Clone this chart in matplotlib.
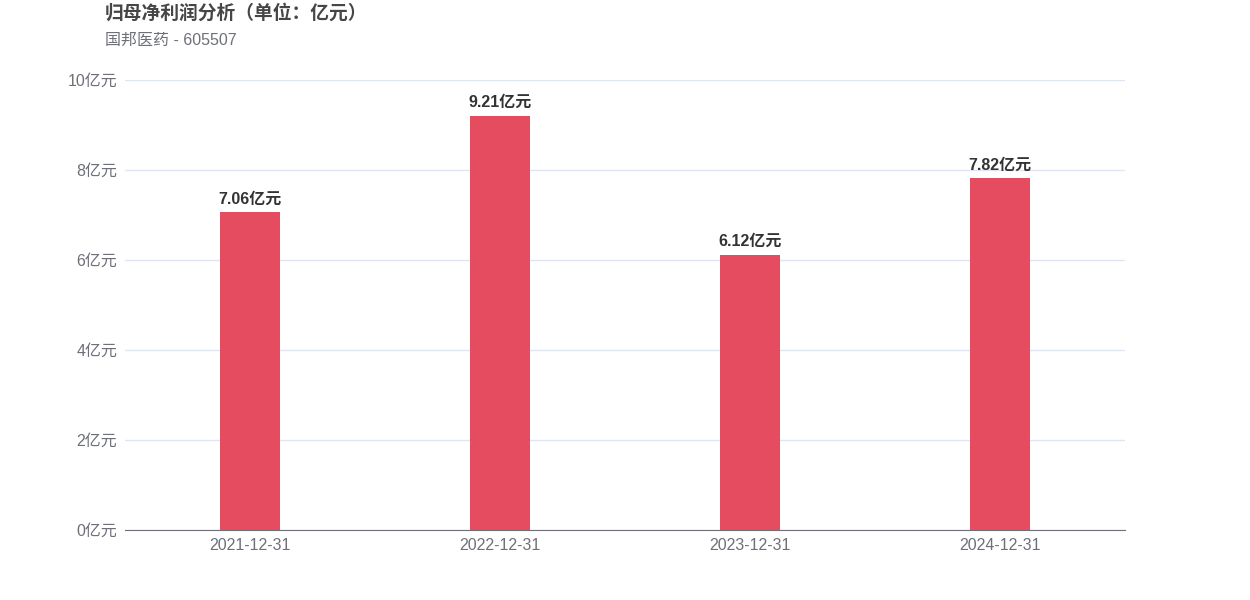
import matplotlib
matplotlib.use("Agg")
import matplotlib.pyplot as plt

plt.rcParams['font.family'] = ['Liberation Sans', 'Noto Sans CJK SC', 'DejaVu Sans']

categories = ['2021-12-31', '2022-12-31', '2023-12-31', '2024-12-31']
values = [7.06, 9.21, 6.12, 7.82]
yticks = [0, 2, 4, 6, 8, 10]
ytick_labels = ['0亿元', '2亿元', '4亿元', '6亿元', '8亿元', '10亿元']
title = '归母净利润分析（单位：亿元）'
subtitle = '国邦医药 - 605507'

fig = plt.figure(figsize=(12.5, 6), dpi=100)
ax = fig.add_axes([125/1250, 1-530/600, 1000/1250, 450/600])

x = list(range(len(categories)))
ax.bar(x, values, width=0.24, color='#E64C5F', zorder=3)
for xi, v in zip(x, values):
    ax.annotate(f'{v:.2f}亿元', (xi, v), xytext=(0, 4), textcoords='offset points',
                ha='center', va='bottom', fontsize=11.5, fontweight='bold', color='#333333')

ax.set_xlim(-0.5, len(categories) - 0.5)
ax.set_ylim(0, 10)
ax.set_yticks(yticks)
ax.set_yticklabels(ytick_labels)
ax.set_xticks(x)
ax.set_xticklabels(categories)
ax.grid(axis='y', color='#E0E6F1', linewidth=1, zorder=0)
for s in ['top', 'right', 'left']:
    ax.spines[s].set_visible(False)
ax.spines['bottom'].set_color('#6E7079')
ax.spines['bottom'].set_zorder(4)
ax.tick_params(axis='y', length=0, pad=5.5, labelsize=11.5, labelcolor='#6E7079')
for lbl in ax.get_yticklabels():
    lbl.set_y(lbl.get_position()[1])
ax.tick_params(axis='x', length=0, pad=6, labelsize=11.5, labelcolor='#6E7079')

fig.text(105/1250, 1-13/600, title, fontsize=13.5, fontweight='bold', color='#464646', va='center', ha='left')
fig.text(105/1250, 1-40/600, subtitle, fontsize=11.5, color='#6E7079', va='center', ha='left')

fig.savefig('out.png', dpi=100, facecolor='white')
